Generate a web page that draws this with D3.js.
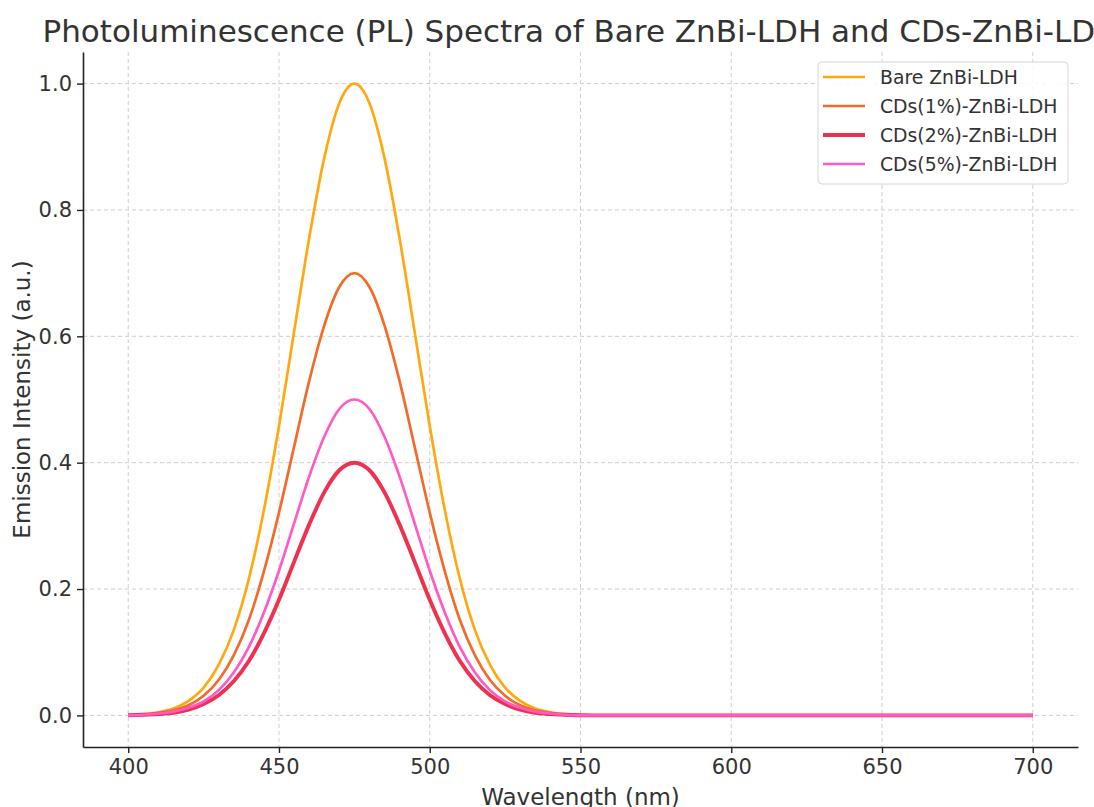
<!DOCTYPE html>
<html>
<head>
<meta charset="utf-8">
<script src="https://cdn.jsdelivr.net/npm/d3@7"></script>
<style>
  body { margin: 0; background: #fff; overflow: hidden; }
  svg { display: block; font-family: 'DejaVu Sans', sans-serif; }
  .grid line { stroke: #cfcfcf; stroke-dasharray: 4,3; stroke-width: 1; }
  .axis path, .axis line { stroke: #222; }
</style>
</head>
<body>
<svg id="chart" width="1094" height="807"></svg>
<script>
//

const title = 'Photoluminescence (PL) Spectra of Bare ZnBi-LDH and CDs-ZnBi-LDH'
const xLabel = 'Wavelength (nm)'
const yLabel = 'Emission Intensity (a.u.)'

const xTicks = [400, 450, 500, 550, 600, 650, 700]
const yTicks = [0.0, 0.2, 0.4, 0.6, 0.8, 1.0]

const wavelength = [400, 405, 410, 415, 420, 425, 430, 435, 440, 445, 450, 455, 460, 465, 470, 475,
  480, 485, 490, 495, 500, 505, 510, 515, 520, 525, 530, 535, 540, 545, 550, 555, 560, 600, 650, 700]

const bare = [0.001, 0.002, 0.005, 0.011, 0.023, 0.044, 0.080, 0.135, 0.216, 0.325, 0.458, 0.607, 0.755, 0.882, 0.969, 1.000,
  0.969, 0.882, 0.755, 0.607, 0.458, 0.325, 0.216, 0.135, 0.080, 0.044, 0.023, 0.011, 0.005, 0.002, 0.001, 0.000, 0.000, 0.000, 0.000, 0.000]
const cds1 = [0.001, 0.001, 0.004, 0.008, 0.016, 0.031, 0.056, 0.095, 0.151, 0.228, 0.321, 0.425, 0.529, 0.617, 0.678, 0.700,
  0.678, 0.617, 0.529, 0.425, 0.321, 0.228, 0.151, 0.095, 0.056, 0.031, 0.016, 0.008, 0.004, 0.001, 0.001, 0.000, 0.000, 0.000, 0.000, 0.000]
const cds2 = [0.000, 0.001, 0.002, 0.004, 0.009, 0.018, 0.032, 0.054, 0.086, 0.130, 0.183, 0.243, 0.302, 0.353, 0.388, 0.400,
  0.388, 0.353, 0.302, 0.243, 0.183, 0.130, 0.086, 0.054, 0.032, 0.018, 0.009, 0.004, 0.002, 0.001, 0.000, 0.000, 0.000, 0.000, 0.000, 0.000]
const cds5 = [0.000, 0.001, 0.003, 0.006, 0.012, 0.022, 0.040, 0.068, 0.108, 0.163, 0.229, 0.304, 0.378, 0.441, 0.485, 0.500,
  0.485, 0.441, 0.378, 0.304, 0.229, 0.163, 0.108, 0.068, 0.040, 0.022, 0.012, 0.006, 0.003, 0.001, 0.000, 0.000, 0.000, 0.000, 0.000, 0.000]

const seriesNames = ['Bare ZnBi-LDH', 'CDs(1%)-ZnBi-LDH', 'CDs(2%)-ZnBi-LDH', 'CDs(5%)-ZnBi-LDH']
const seriesValues = [bare, cds1, cds2, cds5]
const seriesColors = ['#ffa812', '#f46a2a', '#f0304f', '#ff5ac6']
const seriesWidths = [2.7, 2.7, 3.9, 2.7]

//

const margin = {top: 52, right: 16, bottom: 60, left: 83}
const width = 1094 - margin.left - margin.right
const height = 807 - margin.top - margin.bottom

const svg = d3.select('#chart')
const g = svg.append('g').attr('transform', `translate(${margin.left},${margin.top})`)

const x = d3.scaleLinear().domain([385, 715]).range([0, width])
const y = d3.scaleLinear().domain([-0.05, 1.05]).range([height, 0])

// grid
g.append('g').attr('class', 'grid')
  .selectAll('line').data(xTicks).join('line')
  .attr('x1', (d) => x(d)).attr('x2', (d) => x(d))
  .attr('y1', 0).attr('y2', height)
g.append('g').attr('class', 'grid')
  .selectAll('line').data(yTicks).join('line')
  .attr('x1', 0).attr('x2', width)
  .attr('y1', (d) => y(d)).attr('y2', (d) => y(d))

// lines
const line = d3.line()
  .x((d, i) => x(wavelength[i]))
  .y((d) => y(d))
  .curve(d3.curveMonotoneX)

seriesValues.forEach((vals, i) => {
  g.append('path')
    .datum(vals)
    .attr('fill', 'none')
    .attr('stroke', seriesColors[i])
    .attr('stroke-width', seriesWidths[i])
    .attr('stroke-linejoin', 'round')
    .attr('d', line)
})

// axes
const xAxis = g.append('g').attr('class', 'axis')
  .attr('transform', `translate(0,${height})`)
  .call(d3.axisBottom(x).tickValues(xTicks).tickSizeInner(6).tickSizeOuter(0).tickPadding(6))
const yAxis = g.append('g').attr('class', 'axis')
  .call(d3.axisLeft(y).tickValues(yTicks).tickFormat(d3.format('.1f')).tickSizeInner(6).tickSizeOuter(0).tickPadding(5))

;[xAxis, yAxis].forEach((ax) => {
  ax.attr('font-family', 'DejaVu Sans').attr('font-size', 21)
  ax.select('.domain').attr('stroke-width', 1.6)
  ax.selectAll('.tick line').attr('stroke-width', 1.4)
  ax.selectAll('.tick text').attr('fill', '#333')
})

// labels (the reference cuts the title and x label at the picture's edges)
svg.append('text')
  .attr('x', margin.left + width / 2).attr('y', 42)
  .attr('text-anchor', 'middle')
  .attr('font-size', 31).attr('fill', '#333')
  .text(title)

svg.append('text')
  .attr('x', margin.left + width / 2).attr('y', 805)
  .attr('text-anchor', 'middle')
  .attr('font-size', 23).attr('fill', '#333')
  .text(xLabel)

svg.append('text')
  .attr('transform', `translate(30,${margin.top + y(0.5)}) rotate(-90)`)
  .attr('text-anchor', 'middle')
  .attr('font-size', 23).attr('fill', '#333')
  .text(yLabel)

// legend
const legend = svg.append('g').attr('transform', 'translate(818,62)')
legend.append('rect')
  .attr('width', 250).attr('height', 122).attr('rx', 4)
  .attr('fill', 'rgba(255,255,255,0.85)')
  .attr('stroke', '#d6d6d6').attr('stroke-width', 1)

const item = legend.selectAll('g.item').data(seriesNames).join('g')
  .attr('class', 'item')
  .attr('transform', (d, i) => `translate(0,${15 + i * 29})`)
item.append('line')
  .attr('x1', 5).attr('x2', 47).attr('y1', 0).attr('y2', 0)
  .attr('stroke', (d, i) => seriesColors[i])
  .attr('stroke-width', (d, i) => seriesWidths[i])
item.append('text')
  .attr('x', 62).attr('y', 0).attr('dy', '0.35em')
  .attr('font-size', 18.8).attr('fill', '#333')
  .text((d) => d)
</script>
</body>
</html>
